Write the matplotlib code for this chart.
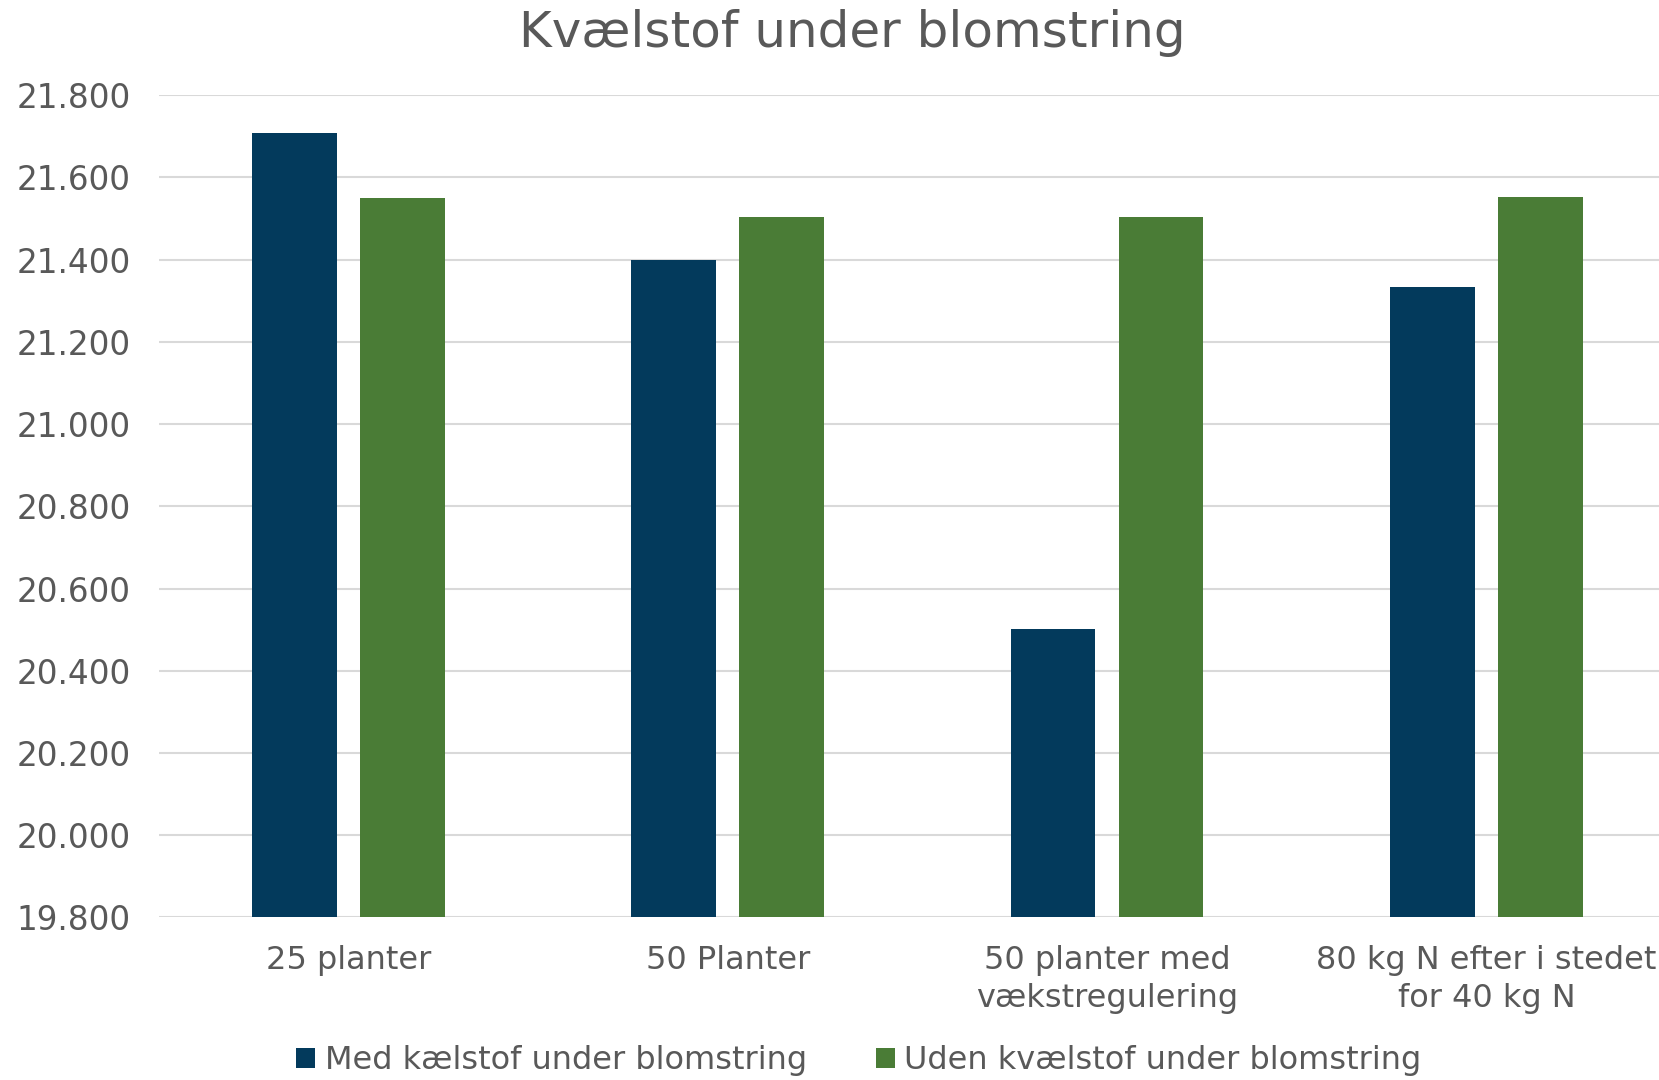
import matplotlib.pyplot as plt
import numpy as np

# Data
kategorier = ['25 planter', '50 Planter', '50 planter med\nvækstregulering',
              '80 kg N efter i stedet\nfor 40 kg N']
med_n = [21.708, 21.40, 20.502, 21.334]
uden_n = [21.549, 21.504, 21.504, 21.552]
serie_navne = ['Med kælstof under blomstring', 'Uden kvælstof under blomstring']
y_ticks = [19.8, 20.0, 20.2, 20.4, 20.6, 20.8, 21.0, 21.2, 21.4, 21.6, 21.8]

blaa = '#033A5C'
groen = '#4A7C36'
tekst = '#595959'

plt.rcParams['font.family'] = 'DejaVu Sans'

fig = plt.figure(figsize=(16.59, 10.8), dpi=100)
W, H = 1659, 1080
# plot area runs past the right edge, as in the original
ax = fig.add_axes([158.7 / W, 1 - 917.4 / H, (1676 - 158.7) / W, (917.4 - 95.2) / H])

x = np.arange(len(kategorier))
bw = 0.2235
off = 0.1425
ax.bar(x - off, med_n, bw, color=blaa, label=serie_navne[0], zorder=3)
ax.bar(x + off, uden_n, bw, color=groen, label=serie_navne[1], zorder=3)

ax.set_xlim(-0.5, 3.5)
ax.set_ylim(19.8, 21.8)
ax.set_yticks(y_ticks)
ax.set_yticklabels([f'{v:.3f}' for v in y_ticks])
ax.set_xticks(x)
ax.set_xticklabels(kategorier, linespacing=1.3)
ax.tick_params(axis='y', length=0, pad=20, labelsize=23.5, labelcolor=tekst)
ax.tick_params(axis='x', length=0, pad=20, labelsize=23, labelcolor=tekst)
ax.grid(axis='y', color='#D9D9D9', linewidth=1.5, zorder=0)
for s in ax.spines.values():
    s.set_visible(False)

fig.text(0.514, 1 - 33 / H, 'Kvælstof under blomstring', ha='center', va='center',
         fontsize=36, color=tekst)

leg = fig.legend(loc='center', bbox_to_anchor=(0.5176, 1 - 1061 / H),
                 bbox_transform=fig.transFigure, ncol=2,
                 frameon=False, fontsize=23, handlelength=0.6, handleheight=0.6,
                 handletextpad=0.3, columnspacing=2.16, borderpad=0)
for t in leg.get_texts():
    t.set_color(tekst)

fig.savefig('out.png', dpi=100)
